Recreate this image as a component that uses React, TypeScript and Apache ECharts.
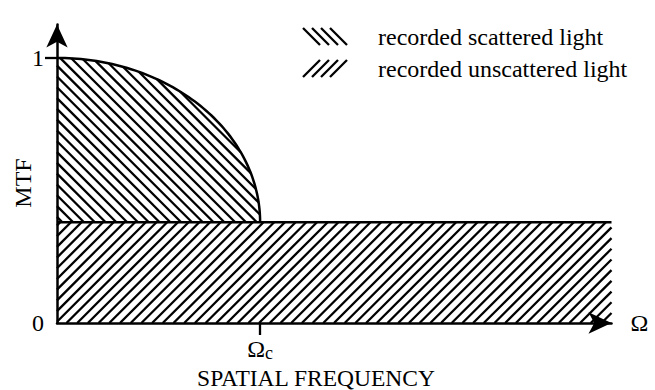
import { useEffect, useRef } from "react";
import * as echarts from "echarts";

const SERIF = "'Liberation Serif', 'Times New Roman', Times, serif";

// Spatial frequency, in units of the cutoff frequency Ωc
const cutoffFrequency = 1;
const frequencyAxisMax = 2.73;

// MTF levels
const peakMTF = 1;
const unscatteredMTF = 0.38;
const mtfAxisMax = 1.126;

// Tick marks and tick labels
const mtfTickValues = [1];
const mtfLabelValues = [0, 1];
const frequencyTickValues = [cutoffFrequency];

// Regions: [freqStart, mtfStart, freqEnd, mtfEnd]
const scatteredRegion = [[0, unscatteredMTF, cutoffFrequency, peakMTF]];
const unscatteredRegion = [[0, 0, frequencyAxisMax, unscatteredMTF]];

const seriesNames = ["recorded scattered light", "recorded unscattered light"];

// hatching: horizontal distance between lines and line slope (|dy/dx|)
const BACK_STEP = 10.8;
const BACK_SLOPE = 1;
const FWD_STEP = 10.7;
const FWD_SLOPE = 1;
const HATCH_WIDTH = 2.3;
const OUTLINE_WIDTH = 2.5;

type Seg = { x1: number; y1: number; x2: number; y2: number };

const lineEl = (s: Seg, w = HATCH_WIDTH) => ({
  type: "line",
  shape: s,
  style: { stroke: "#000", lineWidth: w, lineCap: "butt" },
});

// "\" hatching clipped to the quarter ellipse above the base line
function renderScattered(_params: any, api: any) {
  const p0 = api.coord([api.value(0), api.value(1)]);
  const p1 = api.coord([api.value(2), api.value(3)]);
  const left = p0[0];
  const base = p0[1];
  const right = p1[0];
  const top = p1[1];
  const a = right - left;
  const b = base - top;
  const m = BACK_SLOPE;
  const children: any[] = [];

  // lines: y = m * x - c
  const cStart = m * left - base;
  const cEnd = m * right - top;
  const cStep = m * BACK_STEP;
  for (let c = cStart + cStep * 0.5; c < cEnd; c += cStep) {
    const k = m * left - c - base;
    const A = 1 / (a * a) + (m * m) / (b * b);
    const B = (2 * m * k) / (b * b);
    const C = (k * k) / (b * b) - 1;
    const disc = B * B - 4 * A * C;
    if (disc <= 0) continue;
    const sq = Math.sqrt(disc);
    const u1 = (-B - sq) / (2 * A);
    const u2 = (-B + sq) / (2 * A);
    const lo = Math.max(left, left + u1);
    const hi = Math.min((base + c) / m, left + u2);
    if (hi - lo < 0.5) continue;
    children.push(lineEl({ x1: lo, y1: m * lo - c, x2: hi, y2: m * hi - c }));
  }

  // elliptical outline
  const pts: number[][] = [];
  const n = 80;
  for (let i = 0; i <= n; i++) {
    const t = (i / n) * (Math.PI / 2);
    pts.push([left + a * Math.sin(t), base - b * Math.cos(t)]);
  }
  children.push({
    type: "polyline",
    shape: { points: pts },
    style: { stroke: "#000", lineWidth: OUTLINE_WIDTH, fill: "none" },
  });
  return { type: "group", children };
}

// "/" hatching filling the band below the unscattered level
function renderUnscattered(_params: any, api: any) {
  const p0 = api.coord([api.value(0), api.value(1)]);
  const p1 = api.coord([api.value(2), api.value(3)]);
  const left = p0[0];
  const bottom = p0[1];
  const right = p1[0];
  const top = p1[1];
  const m = FWD_SLOPE;
  const children: any[] = [];

  // lines: y = c - m * x
  const cStart = top + m * left;
  const cEnd = bottom + m * right;
  const cStep = m * FWD_STEP;
  for (let c = cStart + cStep * 0.3; c < cEnd; c += cStep) {
    const lo = Math.max(left, (c - bottom) / m);
    const hi = Math.min(right, (c - top) / m);
    if (hi - lo < 0.5) continue;
    children.push(lineEl({ x1: lo, y1: c - m * lo, x2: hi, y2: c - m * hi }));
  }
  children.push(lineEl({ x1: left, y1: top, x2: right, y2: top }, OUTLINE_WIDTH));
  return { type: "group", children };
}

function swatch(x: number, y: number, h: number, back: boolean) {
  const children: any[] = [];
  for (let i = 0; i < 4; i++) {
    const xs = x + i * 9;
    children.push(
      lineEl(
        back
          ? { x1: xs, y1: y, x2: xs + 17, y2: y + h }
          : { x1: xs, y1: y + h, x2: xs + 17, y2: y },
        2.3
      )
    );
  }
  return { type: "group", children };
}

export default function App() {
  const ref = useRef<HTMLDivElement>(null);

  useEffect(() => {
    if (!ref.current) return;
    const chart = echarts.init(ref.current, null, { renderer: "svg" });
    const axisText = { fontFamily: SERIF, fontSize: 24, color: "#000" };

    chart.setOption({
      animation: false,
      backgroundColor: "#fff",
      grid: { left: 57, right: 43.5, top: 24.5, bottom: 67 },
      xAxis: {
        type: "value",
        min: 0,
        max: frequencyAxisMax,
        name: "Ω",
        nameLocation: "end",
        nameGap: 19,
        nameTextStyle: { ...axisText, verticalAlign: "middle" },
        splitLine: { show: false },
        axisLine: {
          show: true,
          symbol: ["none", "arrow"],
          symbolSize: [16, 23],
          lineStyle: { color: "#000", width: 2.5 },
        },
        axisTick: {
          show: true,
          customValues: frequencyTickValues,
          length: 12,
          lineStyle: { color: "#000", width: 2.3 },
        },
        axisLabel: {
          show: true,
          customValues: frequencyTickValues,
          margin: 14,
          formatter: () => "{o|Ω}{s|c}",
          rich: {
            o: { fontFamily: SERIF, fontSize: 24, lineHeight: 24, color: "#000" },
            s: {
              fontFamily: SERIF,
              fontSize: 18,
              lineHeight: 17,
              color: "#000",
              padding: [7, 0, 0, 0],
            },
          },
        },
      },
      yAxis: {
        type: "value",
        min: 0,
        max: mtfAxisMax,
        splitLine: { show: false },
        axisLine: {
          show: true,
          symbol: ["none", "arrow"],
          symbolSize: [16, 23],
          lineStyle: { color: "#000", width: 2.5 },
        },
        axisTick: {
          show: true,
          customValues: mtfTickValues,
          length: 12,
          lineStyle: { color: "#000", width: 2.3 },
        },
        axisLabel: {
          show: true,
          customValues: mtfLabelValues,
          margin: 13,
          ...axisText,
        },
      },
      series: [
        {
          name: seriesNames[1],
          type: "custom",
          clip: false,
          renderItem: renderUnscattered,
          data: unscatteredRegion,
          z: 1,
        },
        {
          name: seriesNames[0],
          type: "custom",
          clip: false,
          renderItem: renderScattered,
          data: scatteredRegion,
          z: 2,
        },
      ],
      graphic: [
        {
          type: "text",
          x: 23,
          y: 183,
          rotation: Math.PI / 2,
          style: {
            text: "MTF",
            font: `24px ${SERIF}`,
            fill: "#000",
            align: "center",
            verticalAlign: "middle",
          },
        },
        {
          type: "text",
          x: 316,
          y: 377.5,
          style: {
            text: "SPATIAL FREQUENCY",
            font: `23.5px ${SERIF}`,
            fill: "#000",
            align: "center",
            verticalAlign: "middle",
          },
        },
        swatch(303, 28, 17, true),
        swatch(303, 60, 17, false),
        {
          type: "text",
          x: 378,
          y: 37,
          style: {
            text: seriesNames[0],
            font: `24px ${SERIF}`,
            fill: "#000",
            align: "left",
            verticalAlign: "middle",
          },
        },
        {
          type: "text",
          x: 378,
          y: 69,
          style: {
            text: seriesNames[1],
            font: `24px ${SERIF}`,
            fill: "#000",
            align: "left",
            verticalAlign: "middle",
          },
        },
      ],
    });

    return () => chart.dispose();
  }, []);

  return (
    <div
      ref={ref}
      style={{ position: "fixed", left: 0, top: 0, width: 655, height: 390 }}
    />
  );
}
